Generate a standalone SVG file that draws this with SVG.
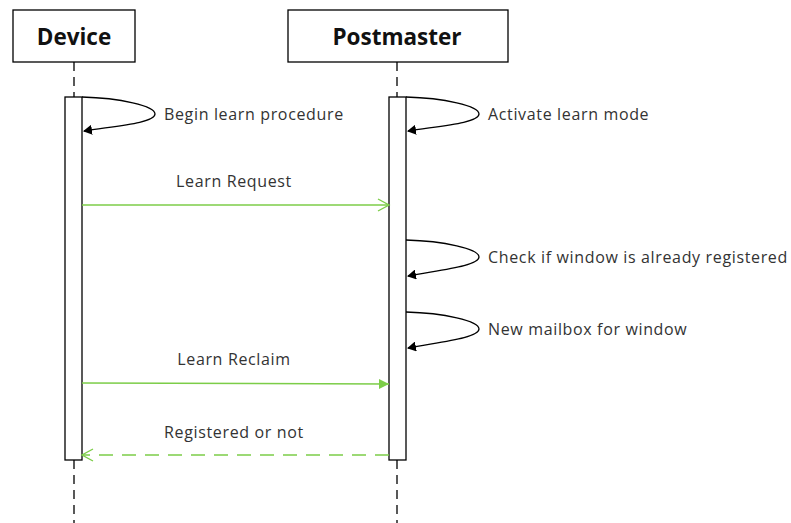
<svg xmlns="http://www.w3.org/2000/svg" width="791" height="523" viewBox="0 0 791 523">
  <style>
    .head { fill: #fff; stroke: #000; stroke-width: 1.3; }
    .head-label { font-family: "Open Sans", "Liberation Sans", sans-serif; font-weight: bold; font-size: 22.5px; fill: #111; text-anchor: middle; }
    .life { stroke: #000; stroke-width: 1.3; stroke-dasharray: 9 6; fill: none; }
    .act { fill: #fff; stroke: #000; stroke-width: 1.3; }
    .loop { fill: none; stroke: #000; stroke-width: 1.3; marker-end: url(#selfHead); }
    .msg { fill: none; stroke: #7ccd48; stroke-width: 1.4; }
    .label { font-family: "Open Sans", "Liberation Sans", sans-serif; font-size: 16px; letter-spacing: 0.65px; fill: #333; }
    .mid { text-anchor: middle; }
  </style>
  <defs>
    <marker id="selfHead" markerWidth="10" markerHeight="10" refX="8" refY="5" orient="auto" markerUnits="userSpaceOnUse">
      <path d="M0,0 L9,5 L0,10 Z" fill="#000"/>
    </marker>
    <marker id="openHead" markerWidth="14" markerHeight="14" refX="12" refY="7" orient="auto" markerUnits="userSpaceOnUse">
      <path d="M1,1 L12,7 L1,13" fill="none" stroke="#7ccd48" stroke-width="1.4"/>
    </marker>
    <marker id="fillHead" markerWidth="12" markerHeight="12" refX="10" refY="6" orient="auto" markerUnits="userSpaceOnUse">
      <path d="M0,1 L10,6 L0,11 Z" fill="#7ccd48"/>
    </marker>
  </defs>

  <g id="device">
    <rect class="head" x="13" y="10" width="122" height="52"/>
    <text class="head-label" x="74" y="45">Device</text>
    <line class="life" x1="74" y1="62" x2="74" y2="97"/>
    <line class="life" x1="74" y1="460" x2="74" y2="523"/>
    <rect class="act" x="65" y="97" width="17" height="363"/>
  </g>

  <g id="postmaster">
    <rect class="head" x="288" y="10" width="220" height="52"/>
    <text class="head-label" x="397" y="45">Postmaster</text>
    <line class="life" x1="397" y1="62" x2="397" y2="97"/>
    <line class="life" x1="397" y1="460" x2="397" y2="523"/>
    <rect class="act" x="389" y="97" width="17" height="363"/>
  </g>

  <g id="connectors">
    <!-- self calls -->
    <path class="loop" d="M82,97 C120,98 155,106 155,114 C155,123 115,126 84,131"/>
    <path class="loop" d="M406,97 C444,98 479,106 479,114 C479,123 439,126 408,131"/>
    <path class="loop" d="M406,240 C444,241 479,249 479,257 C479,266 439,270 408,276"/>
    <path class="loop" d="M406,312 C444,313 479,321 479,329 C479,338 439,342 408,348"/>
    <!-- messages -->
    <line class="msg" x1="82" y1="205" x2="389" y2="205" marker-end="url(#openHead)"/>
    <line class="msg" x1="82" y1="383" x2="389" y2="384" marker-end="url(#fillHead)"/>
    <line class="msg" x1="389" y1="455" x2="82" y2="455" stroke-dasharray="14 9" marker-end="url(#openHead)"/>
  </g>

  <g id="labels">
    <text class="label" x="164" y="120">Begin learn procedure</text>
    <text class="label" x="488" y="120">Activate learn mode</text>
    <text class="label" x="488" y="263">Check if window is already registered</text>
    <text class="label" x="488" y="335">New mailbox for window</text>
    <text class="label mid" x="234" y="187">Learn Request</text>
    <text class="label mid" x="234" y="365">Learn Reclaim</text>
    <text class="label mid" x="234" y="438">Registered or not</text>
  </g>
</svg>
